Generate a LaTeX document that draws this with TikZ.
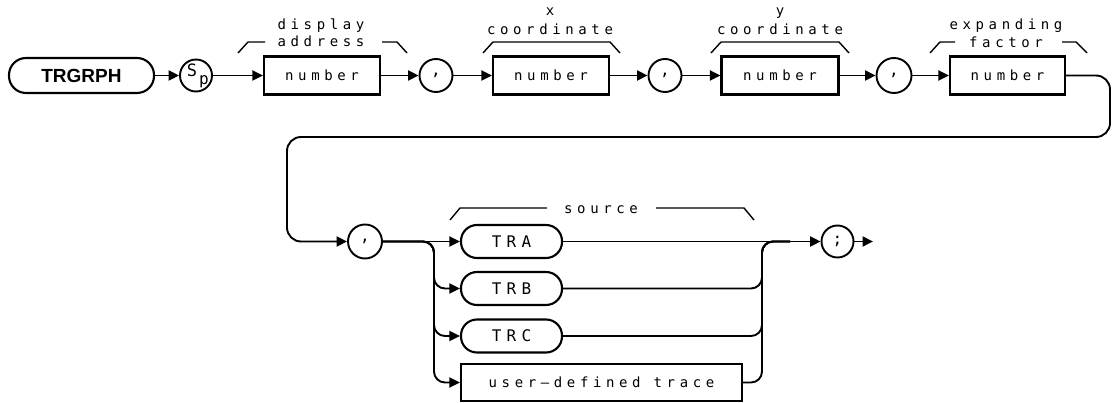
\documentclass[tikz,border=0pt]{standalone}
\usepackage{fontspec}
\usetikzlibrary{arrows.meta}
\newfontfamily\lblfont[LetterSpace=33]{DejaVu Sans Mono}
\newfontfamily\symfont{DejaVu Sans Mono}
\newfontfamily\kwfont{Liberation Sans}
\begin{document}
\begin{tikzpicture}[x=1pt,y=-1pt,
  conn/.style={line width=1.9pt},
  arr/.style={conn,-{Triangle[length=10.5pt,width=10pt]}},
  brk/.style={line width=1.4pt},
  lbl/.style={inner sep=0pt,anchor=base,font=\fontsize{14}{16}\lblfont},
  numbox/.style={draw,line width=2.1pt,rectangle,minimum width=116pt,minimum height=38pt,inner sep=0pt,font=\fontsize{14}{16}\lblfont},
  kwbox/.style={draw,line width=2.1pt,rectangle,rounded corners=16pt,minimum width=101pt,minimum height=33pt,inner sep=0pt,font=\fontsize{16}{18}\lblfont},
  sym/.style={draw,circle,line width=1.9pt,minimum size=33pt,inner sep=0pt,font=\fontsize{16}{18}\lblfont}
]
\useasboundingbox (0,0) rectangle (1112,403);

% top row
\node[draw,line width=2.1pt,rectangle,rounded corners=17pt,minimum width=145pt,minimum height=35pt,inner sep=0pt,font=\fontsize{19}{21}\kwfont\bfseries] (trgrph) at (81.5,75.5) {TRGRPH};
\node[sym,minimum size=32pt] (sp) at (196,75.5) {};
\node[inner sep=0pt,font=\fontsize{17}{20}\symfont] (spS) at (192,70) {S};
\node[inner sep=0pt,font=\fontsize{16}{18}\symfont] (spP) at (204,81.5) {p};
\node[numbox] (n1) at (322,75.5) {number};
\node[sym] (c1) at (436,75.5) {,};
\node[numbox] (n2) at (551,75.5) {number};
\node[sym] (c2) at (665,75.5) {,};
\node[numbox,minimum width=117pt] (n3) at (780,75.5) {number};
\node[sym,minimum size=35pt] (c3) at (894,75.5) {,};
\node[numbox,minimum width=115pt] (n4) at (1007.5,75.5) {number};

% labels above
\node[lbl] (lDisp) at (321,30) {display};
\node[lbl] (lAddr) at (321,47) {address};
\node[lbl] (lX) at (550,16) {x};
\node[lbl] (lXc) at (550,35) {coordinate};
\node[lbl] (lY) at (780,16) {y};
\node[lbl] (lYc) at (780,35) {coordinate};
\node[lbl] (lExp) at (1006,30) {expanding};
\node[lbl] (lFac) at (1006,48) {factor};

% brackets
\draw[brk] (238,53) -- (248,42) -- (265,42);
\draw[brk] (382,42) -- (397,42) -- (407,53);
\draw[brk] (483,53) -- (493,42) -- (610,42) -- (620,53);
\draw[brk] (711,53) -- (721,42) -- (839,42) -- (849,53);
\draw[brk] (930,53) -- (940,42) -- (955,42);
\draw[brk] (1062,42) -- (1076,42) -- (1087,53);

% top connectors
\draw[arr] (trgrph) -- (sp);
\draw[arr] (sp) -- (n1);
\draw[arr] (n1) -- (c1);
\draw[arr] (c1) -- (n2);
\draw[arr] (n2) -- (c2);
\draw[arr] (c2) -- (n3);
\draw[arr] (n3) -- (c3);
\draw[arr] (c3) -- (n4);

% lower row
\node[sym,minimum size=34pt] (c4) at (365,241.5) {,};
\node[kwbox] (tra) at (511.5,241.5) {TRA};
\node[kwbox] (trb) at (511.5,288.5) {TRB};
\node[kwbox] (trc) at (511.5,336) {TRC};
\node[numbox,minimum width=281pt,minimum height=37pt] (udt) at (601.5,382.5) {user–defined trace};
\node[sym,minimum size=32pt] (semi) at (837.5,241.5) {;};
\coordinate (endpt) at (873,241.5);

\node[lbl] (lSrc) at (601,214) {source};
\draw[brk] (450,220) -- (460,208) -- (547,208);
\draw[brk] (656,208) -- (744,208) -- (754,220);

% wrap-around loop
\coordinate (loopR) at (1110,137);
\coordinate (loopL) at (287,137);
\draw[arr,rounded corners=14pt] (n4.east) -| (loopR) -- (loopL) |- (c4.west);

% branches
\coordinate (splitL) at (434,241.5);
\coordinate (mergeR) at (762,241.5);
\coordinate (mergeEnd) at (790,241.5);
\draw[arr] (c4) -- (tra);
\draw[arr,rounded corners=11pt] (c4.east) -- (splitL) |- (trb.west);
\draw[arr,rounded corners=11pt] (c4.east) -- (splitL) |- (trc.west);
\draw[arr,rounded corners=11pt] (c4.east) -- (splitL) |- (udt.west);
\draw[arr] (tra) -- (semi);
\draw[conn,rounded corners=11pt] (trb.east) -| (mergeR) -- (mergeEnd);
\draw[conn,rounded corners=11pt] (trc.east) -| (mergeR) -- (mergeEnd);
\draw[conn,rounded corners=11pt] (udt.east) -| (mergeR) -- (mergeEnd);
\draw[arr] (semi) -- (endpt);
\end{tikzpicture}
\end{document}
